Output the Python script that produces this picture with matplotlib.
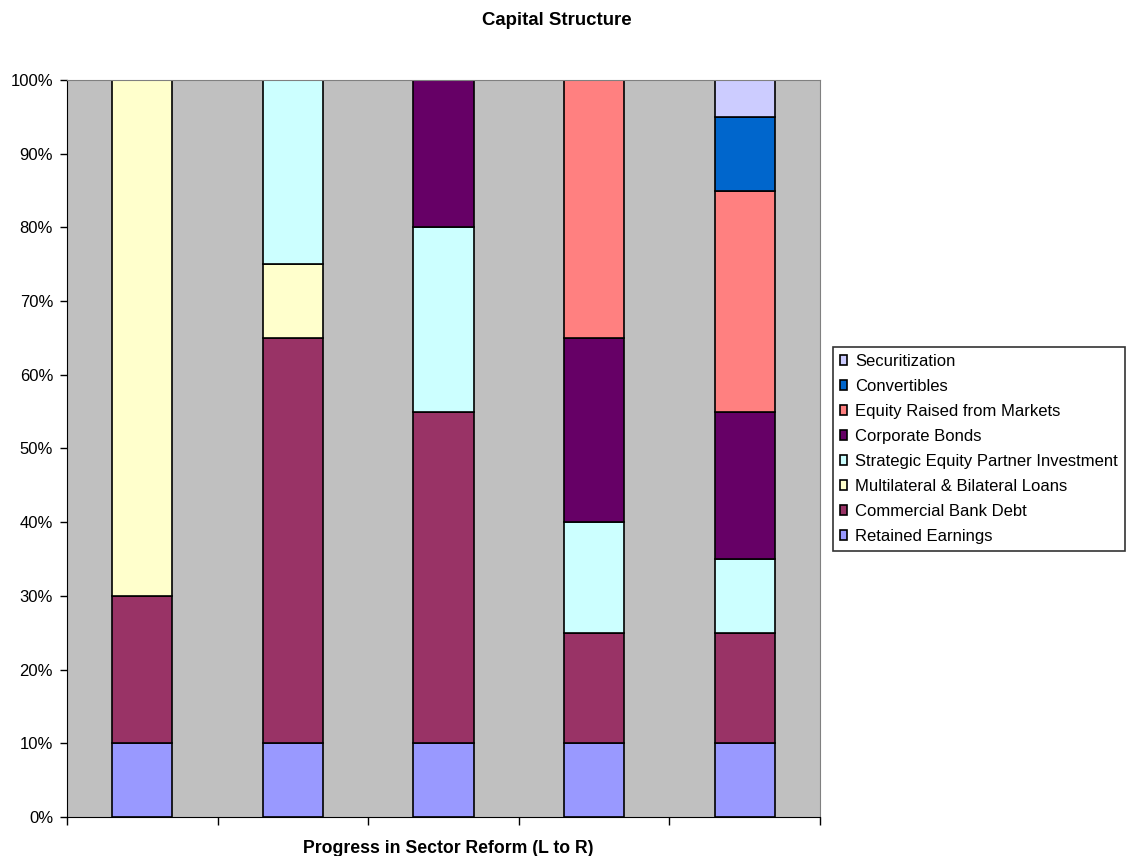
import matplotlib.pyplot as plt
import numpy as np

plt.rcParams['font.family'] = ['Liberation Sans', 'DejaVu Sans']

# data: share of each source (%) per stage of reform
stages = ['1', '2', '3', '4', '5']
series = [
    'Retained Earnings',
    'Commercial Bank Debt',
    'Multilateral & Bilateral Loans',
    'Strategic Equity Partner Investment',
    'Corporate Bonds',
    'Equity Raised from Markets',
    'Convertibles',
    'Securitization',
]
retained = [10, 10, 10, 10, 10]
commercial = [20, 55, 45, 15, 15]
multilateral = [70, 10, 0, 0, 0]
strategic = [0, 25, 25, 15, 10]
corporate = [0, 0, 20, 25, 20]
equity = [0, 0, 0, 35, 30]
convertibles = [0, 0, 0, 0, 10]
securitization = [0, 0, 0, 0, 5]
colors = ['#9999FF', '#993366', '#FFFFCC', '#CCFFFF', '#660066', '#FF8080', '#0066CC', '#CCCCFF']

values = [retained, commercial, multilateral, strategic, corporate, equity,
          convertibles, securitization]

fig = plt.figure(figsize=(11.33, 8.56), dpi=100)
ax = fig.add_axes([0.0591, 0.0456, 0.6646, 0.861])
ax.set_facecolor('#C0C0C0')

x = np.arange(len(stages))
bottom = np.zeros(len(stages))
handles = []
for name, vals, c in zip(series, values, colors):
    vals = np.array(vals, dtype=float)
    h = ax.bar(x, vals, 0.4, bottom=bottom, color=c, edgecolor='black',
               linewidth=1.2, label=name)
    handles.append(h)
    bottom += vals

ax.set_xlim(-0.5, len(stages) - 0.5)
ax.set_ylim(0, 100)
ax.set_yticks(np.arange(0, 101, 10))
ax.set_yticklabels([f'{v}%' for v in range(0, 101, 10)], fontsize=12)
ax.set_xticks(np.arange(-0.5, len(stages), 1))
ax.set_xticklabels([])
ax.tick_params(axis='both', length=5, width=1, color='black', direction='out')
ax.tick_params(axis='y', pad=5)
ax.tick_params(axis='x', length=6)

for s in ['top', 'right']:
    ax.spines[s].set_color('#808080')
for s in ['left', 'bottom']:
    ax.spines[s].set_color('black')

fig.text(0.3954, 0.0035, 'Progress in Sector Reform (L to R)', ha='center',
         va='baseline', fontsize=12.7, fontweight='bold')
fig.text(0.4916, 0.9766, 'Capital Structure', ha='center', va='center',
         fontsize=13.4, fontweight='bold')

leg = fig.legend(handles[::-1], series[::-1], loc='upper left',
                 bbox_to_anchor=(0.7352, 0.5946), fontsize=12,
                 frameon=True, fancybox=False, edgecolor='black',
                 handlelength=0.45, handleheight=0.5, handletextpad=0.45,
                 labelspacing=0.6, borderpad=0.42, borderaxespad=0)
leg.get_frame().set_linewidth(1.2)

fig.savefig('out.png', dpi=100)
